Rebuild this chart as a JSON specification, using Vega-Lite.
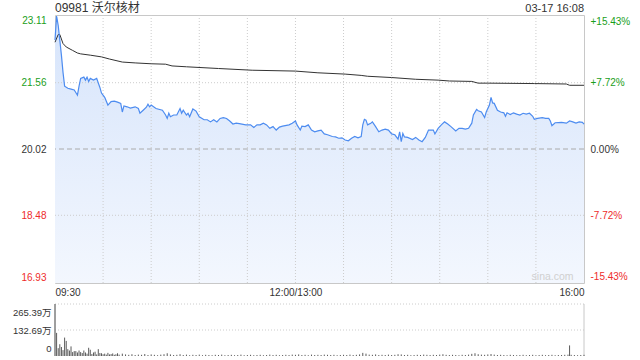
{
  "$schema": "https://vega.github.io/schema/vega-lite/v6.json",
  "background": "white",
  "padding": {"left": 12, "top": 1, "right": 0, "bottom": 0},
  "spacing": 21,
  "bounds": "flush",
  "config": {
    "font": "Liberation Sans",
    "view": {"stroke": "#c8c8c8"},
    "axis": {"labelFont": "Liberation Sans, Noto Sans CJK SC", "labelFontSize": 10, "labelColor": "#333333", "domain": false, "ticks": false, "tickSize": 0, "grid": false, "title": null, "labelOverlap": false}
  },
  "datasets": {
    "price": [
      {"m":0,"p":22.55},{"m":1,"p":23.11},{"m":2,"p":22.89},{"m":3,"p":22.55},{"m":4,"p":22.20},{"m":5,"p":21.80},{"m":6,"p":21.48},{"m":8,"p":21.43},{"m":10,"p":21.41},{"m":12,"p":21.39},{"m":14,"p":21.27},{"m":15,"p":21.48},{"m":16,"p":21.66},{"m":18,"p":21.69},{"m":19,"p":21.62},{"m":20,"p":21.69},{"m":21,"p":21.59},{"m":22,"p":21.66},{"m":24,"p":21.62},{"m":26,"p":21.66},{"m":28,"p":21.45},{"m":29,"p":21.32},{"m":31,"p":21.22},{"m":33,"p":21.04},{"m":35,"p":21.12},{"m":37,"p":21.13},{"m":39,"p":21.11},{"m":41,"p":21.08},{"m":42,"p":20.88},{"m":43,"p":21.02},{"m":45,"p":21.00},{"m":47,"p":20.97},{"m":50,"p":21.00},{"m":52,"p":20.96},{"m":53,"p":20.85},{"m":55,"p":20.92},{"m":57,"p":20.99},{"m":58,"p":21.06},{"m":59,"p":21.00},{"m":60,"p":21.04},{"m":63,"p":20.96},{"m":67,"p":20.92},{"m":69,"p":20.81},{"m":70,"p":20.73},{"m":71,"p":20.85},{"m":72,"p":20.77},{"m":74,"p":20.81},{"m":76,"p":20.81},{"m":78,"p":20.96},{"m":79,"p":20.85},{"m":80,"p":20.92},{"m":82,"p":20.81},{"m":83,"p":20.85},{"m":84,"p":20.77},{"m":86,"p":20.95},{"m":88,"p":20.90},{"m":90,"p":20.77},{"m":93,"p":20.70},{"m":95,"p":20.70},{"m":97,"p":20.65},{"m":99,"p":20.70},{"m":101,"p":20.65},{"m":103,"p":20.73},{"m":105,"p":20.75},{"m":107,"p":20.73},{"m":109,"p":20.67},{"m":111,"p":20.60},{"m":113,"p":20.62},{"m":115,"p":20.61},{"m":119,"p":20.58},{"m":122,"p":20.58},{"m":124,"p":20.52},{"m":126,"p":20.58},{"m":128,"p":20.58},{"m":130,"p":20.62},{"m":132,"p":20.58},{"m":134,"p":20.50},{"m":136,"p":20.54},{"m":138,"p":20.46},{"m":140,"p":20.53},{"m":142,"p":20.55},{"m":146,"p":20.58},{"m":148,"p":20.62},{"m":150,"p":20.67},{"m":151,"p":20.58},{"m":153,"p":20.46},{"m":154,"p":20.55},{"m":156,"p":20.54},{"m":158,"p":20.58},{"m":160,"p":20.46},{"m":162,"p":20.42},{"m":164,"p":20.44},{"m":166,"p":20.46},{"m":168,"p":20.37},{"m":170,"p":20.35},{"m":173,"p":20.31},{"m":175,"p":20.30},{"m":177,"p":20.27},{"m":179,"p":20.28},{"m":181,"p":20.23},{"m":183,"p":20.21},{"m":185,"p":20.27},{"m":187,"p":20.31},{"m":189,"p":20.28},{"m":191,"p":20.31},{"m":192,"p":20.58},{"m":193,"p":20.71},{"m":194,"p":20.69},{"m":195,"p":20.58},{"m":197,"p":20.62},{"m":198,"p":20.65},{"m":200,"p":20.54},{"m":202,"p":20.42},{"m":204,"p":20.46},{"m":206,"p":20.48},{"m":208,"p":20.46},{"m":210,"p":20.37},{"m":212,"p":20.35},{"m":214,"p":20.25},{"m":215,"p":20.42},{"m":216,"p":20.19},{"m":217,"p":20.38},{"m":218,"p":20.30},{"m":220,"p":20.29},{"m":223,"p":20.24},{"m":225,"p":20.29},{"m":227,"p":20.23},{"m":229,"p":20.19},{"m":231,"p":20.29},{"m":233,"p":20.46},{"m":236,"p":20.46},{"m":237,"p":20.37},{"m":239,"p":20.50},{"m":241,"p":20.58},{"m":243,"p":20.65},{"m":245,"p":20.60},{"m":247,"p":20.54},{"m":250,"p":20.44},{"m":252,"p":20.50},{"m":254,"p":20.50},{"m":256,"p":20.48},{"m":258,"p":20.50},{"m":260,"p":20.62},{"m":261,"p":20.81},{"m":263,"p":20.94},{"m":264,"p":20.91},{"m":266,"p":20.88},{"m":268,"p":20.75},{"m":269,"p":20.88},{"m":271,"p":21.04},{"m":272,"p":21.22},{"m":273,"p":21.09},{"m":274,"p":21.08},{"m":276,"p":20.92},{"m":278,"p":20.88},{"m":280,"p":20.86},{"m":281,"p":20.78},{"m":282,"p":20.86},{"m":284,"p":20.82},{"m":286,"p":20.86},{"m":288,"p":20.83},{"m":290,"p":20.81},{"m":292,"p":20.85},{"m":294,"p":20.83},{"m":296,"p":20.85},{"m":298,"p":20.78},{"m":299,"p":20.71},{"m":301,"p":20.73},{"m":304,"p":20.75},{"m":306,"p":20.73},{"m":308,"p":20.73},{"m":309,"p":20.67},{"m":310,"p":20.56},{"m":312,"p":20.63},{"m":316,"p":20.64},{"m":319,"p":20.62},{"m":321,"p":20.67},{"m":323,"p":20.65},{"m":325,"p":20.62},{"m":327,"p":20.65},{"m":329,"p":20.64},{"m":330,"p":20.60}
    ],
    "avg": [
      {"m":0,"a":22.50},{"m":2,"a":22.68},{"m":3,"a":22.68},{"m":5,"a":22.47},{"m":7,"a":22.39},{"m":11,"a":22.31},{"m":14,"a":22.25},{"m":16,"a":22.23},{"m":22,"a":22.20},{"m":29,"a":22.16},{"m":34,"a":22.11},{"m":42,"a":22.04},{"m":50,"a":22.02},{"m":60,"a":22.00},{"m":69,"a":21.99},{"m":73,"a":21.95},{"m":82,"a":21.93},{"m":102,"a":21.89},{"m":123,"a":21.85},{"m":150,"a":21.83},{"m":164,"a":21.79},{"m":181,"a":21.76},{"m":191,"a":21.73},{"m":195,"a":21.71},{"m":210,"a":21.68},{"m":225,"a":21.64},{"m":239,"a":21.62},{"m":246,"a":21.60},{"m":260,"a":21.59},{"m":264,"a":21.55},{"m":270,"a":21.55},{"m":299,"a":21.54},{"m":319,"a":21.53},{"m":321,"a":21.50},{"m":330,"a":21.50}
    ],
    "vol": [
      {"m":0,"v":265.39},{"m":1,"v":118},{"m":2,"v":40},{"m":3,"v":60},{"m":4,"v":46},{"m":5,"v":30},{"m":6,"v":94},{"m":7,"v":77},{"m":8,"v":35},{"m":9,"v":28},{"m":10,"v":49},{"m":11,"v":20},{"m":12,"v":25},{"m":13,"v":25},{"m":14,"v":18},{"m":15,"v":28},{"m":16,"v":20},{"m":17,"v":15},{"m":18,"v":28},{"m":19,"v":18},{"m":20,"v":12},{"m":21,"v":42},{"m":22,"v":32},{"m":23,"v":10},{"m":24,"v":18},{"m":25,"v":22},{"m":26,"v":8},{"m":27,"v":35},{"m":28,"v":15},{"m":29,"v":14},{"m":30,"v":9},{"m":31,"v":12},{"m":32,"v":7},{"m":33,"v":16},{"m":34,"v":8},{"m":35,"v":10},{"m":36,"v":13},{"m":37,"v":6},{"m":38,"v":9},{"m":39,"v":14},{"m":40,"v":7},
      {"m":42,"v":12},{"m":44,"v":8},{"m":46,"v":6},{"m":48,"v":9},{"m":50,"v":5},{"m":52,"v":7},{"m":54,"v":6},{"m":56,"v":10},{"m":58,"v":5},{"m":60,"v":8},{"m":62,"v":6},{"m":64,"v":4},{"m":66,"v":7},{"m":68,"v":9},{"m":70,"v":14},{"m":72,"v":8},{"m":74,"v":5},{"m":76,"v":6},{"m":78,"v":9},{"m":80,"v":5},{"m":82,"v":7},{"m":84,"v":4},{"m":86,"v":6},{"m":88,"v":5},{"m":90,"v":7},{"m":92,"v":4},{"m":94,"v":6},{"m":96,"v":5},{"m":98,"v":4},{"m":100,"v":6},{"m":102,"v":5},{"m":104,"v":7},{"m":106,"v":4},{"m":108,"v":5},{"m":110,"v":6},{"m":112,"v":4},{"m":114,"v":5},{"m":116,"v":7},{"m":118,"v":4},{"m":120,"v":5},{"m":122,"v":6},{"m":124,"v":4},{"m":126,"v":5},{"m":128,"v":6},{"m":130,"v":4},{"m":132,"v":5},{"m":134,"v":7},{"m":136,"v":5},{"m":138,"v":6},{"m":140,"v":4},{"m":142,"v":5},{"m":144,"v":6},{"m":146,"v":5},{"m":148,"v":7},{"m":150,"v":6},{"m":152,"v":8},{"m":154,"v":5},{"m":156,"v":6},{"m":158,"v":4},{"m":160,"v":7},{"m":162,"v":5},{"m":164,"v":6},{"m":166,"v":5},{"m":168,"v":7},{"m":170,"v":6},{"m":172,"v":5},{"m":174,"v":6},{"m":176,"v":4},{"m":178,"v":5},{"m":180,"v":6},{"m":182,"v":5},{"m":184,"v":7},{"m":186,"v":5},{"m":188,"v":6},{"m":190,"v":8},{"m":192,"v":16},{"m":194,"v":12},{"m":196,"v":7},{"m":198,"v":6},{"m":200,"v":8},{"m":202,"v":5},{"m":204,"v":6},{"m":206,"v":5},{"m":208,"v":7},{"m":210,"v":5},{"m":212,"v":6},{"m":214,"v":9},{"m":216,"v":8},{"m":218,"v":5},{"m":220,"v":6},{"m":222,"v":4},{"m":224,"v":5},{"m":226,"v":6},{"m":228,"v":5},{"m":230,"v":7},{"m":232,"v":6},{"m":234,"v":5},{"m":236,"v":6},{"m":238,"v":5},{"m":240,"v":7},{"m":242,"v":9},{"m":244,"v":6},{"m":246,"v":5},{"m":248,"v":6},{"m":250,"v":5},{"m":252,"v":4},{"m":254,"v":6},{"m":256,"v":5},{"m":258,"v":7},{"m":260,"v":11},{"m":262,"v":14},{"m":264,"v":9},{"m":266,"v":7},{"m":268,"v":6},{"m":270,"v":8},{"m":272,"v":10},{"m":274,"v":7},{"m":276,"v":5},{"m":278,"v":6},{"m":280,"v":5},{"m":282,"v":4},{"m":284,"v":6},{"m":286,"v":5},{"m":288,"v":4},{"m":290,"v":5},{"m":292,"v":6},{"m":294,"v":4},{"m":296,"v":5},{"m":298,"v":6},{"m":300,"v":4},{"m":302,"v":5},{"m":304,"v":6},{"m":306,"v":4},{"m":308,"v":5},{"m":310,"v":6},{"m":312,"v":4},{"m":314,"v":5},{"m":316,"v":5},{"m":318,"v":6},{"m":320,"v":7},{"m":321,"v":54},{"m":322,"v":6},{"m":324,"v":5},{"m":326,"v":4},{"m":328,"v":5},{"m":330,"v":6}
    ],
    "vgrid": [{"m":30},{"m":60},{"m":90},{"m":120},{"m":150},{"m":180},{"m":210},{"m":240},{"m":270},{"m":300}],
    "hgrid": [{"p":21.56},{"p":18.48}],
    "vborder": [{"m":0},{"m":330}],
    "volgrid": [{"v":132.69},{"v":265.39}]
  },
  "vconcat": [
    {
      "width": 529,
      "height": 268,
      "layer": [
        {
          "layer": [
            {
              "data": {"name": "price"},
              "mark": {"type": "area", "color": {"gradient": "linear", "x1": 0, "y1": 0, "x2": 0, "y2": 1, "stops": [{"offset": 0, "color": "#d6e4fb"}, {"offset": 1, "color": "#f3f7fe"}]}},
              "encoding": {
                "x": {"field": "m", "type": "quantitative", "scale": {"domain": [0, 330], "nice": false, "zero": false},
                  "axis": {"values": [0, 150, 330], "tickCount": 12, "labelExpr": "datum.value == 0 ? '09:30' : (datum.value == 150 ? '12:00/13:00' : '16:00')", "labelFlush": true, "labelPadding": 4}},
                "y": {"field": "p", "type": "quantitative", "scale": {"domain": [16.907, 23.133], "nice": false, "zero": false},
                  "axis": {"orient": "left", "offset": 0, "tickCount": 10, "labelAlign": "right", "values": [16.93, 18.48, 20.02, 21.56, 23.11], "format": ".2f", "labelFlush": 3, "labelPadding": 9,
                    "labelColor": {"condition": [{"test": "datum.value > 20.1", "value": "#1a9e1a"}, {"test": "datum.value < 19.9", "value": "#ee2c2c"}], "value": "#333333"}}},
                "y2": {"datum": 16.907}
              }
            },
            {
              "data": {"name": "hgrid"},
              "mark": {"type": "rule", "color": "#cccccc", "strokeDash": [1, 2], "strokeWidth": 1},
              "encoding": {"y": {"field": "p", "type": "quantitative"}}
            },
            {
              "data": {"name": "vgrid"},
              "mark": {"type": "rule", "color": "#cccccc", "strokeDash": [1, 2], "strokeWidth": 1},
              "encoding": {"x": {"field": "m", "type": "quantitative"}}
            },
            {
              "data": {"name": "avg"},
              "mark": {"type": "line", "color": "#333333", "strokeWidth": 1},
              "encoding": {"x": {"field": "m", "type": "quantitative"}, "y": {"field": "a", "type": "quantitative"}}
            },
            {
              "data": {"name": "price"},
              "mark": {"type": "line", "color": "#4d8cf0", "strokeWidth": 1.2},
              "encoding": {"x": {"field": "m", "type": "quantitative"}, "y": {"field": "p", "type": "quantitative"}}
            },
            {
              "data": {"values": [{"t": "09981 沃尔核材"}]},
              "mark": {"type": "text", "align": "left", "baseline": "alphabetic", "dy": -3.5, "fontSize": 12, "font": "Liberation Sans, Noto Sans CJK SC", "color": "#333333"},
              "encoding": {"x": {"datum": 0, "type": "quantitative"}, "y": {"datum": 23.133, "type": "quantitative"}, "text": {"field": "t"}}
            },
            {
              "data": {"values": [{"t": "03-17 16:08"}]},
              "mark": {"type": "text", "align": "right", "baseline": "alphabetic", "dy": -3.5, "fontSize": 11, "font": "Liberation Sans", "color": "#333333"},
              "encoding": {"x": {"datum": 330, "type": "quantitative"}, "y": {"datum": 23.133, "type": "quantitative"}, "text": {"field": "t"}}
            },
            {
              "data": {"values": [{"t": "sina.com"}]},
              "mark": {"type": "text", "align": "right", "baseline": "bottom", "dy": -1, "fontSize": 10.5, "font": "Liberation Sans", "color": "#d0d0d0"},
              "encoding": {"x": {"datum": 323.5, "type": "quantitative"}, "y": {"datum": 16.907, "type": "quantitative"}, "text": {"field": "t"}}
            }
          ]
        },
        {
          "data": {"values": [{"pct": 0}]},
          "mark": {"type": "rule", "color": "#aaaaaa", "strokeDash": [5, 3], "strokeWidth": 1},
          "encoding": {
            "y": {"field": "pct", "type": "quantitative", "scale": {"domain": [-0.15549, 0.15549], "nice": false, "zero": false},
              "axis": {"orient": "right", "offset": 0, "tickCount": 10, "values": [-0.1543, -0.0772, 0, 0.0772, 0.1543], "labelFlush": 3, "labelPadding": 6,
                "labelExpr": "(datum.value < -0.001 ? '-' : (datum.value > 0.001 ? '+' : '')) + format(abs(datum.value), '.2%')",
                "labelColor": {"condition": [{"test": "datum.value > 0.001", "value": "#1a9e1a"}, {"test": "datum.value < -0.001", "value": "#ee2c2c"}], "value": "#333333"}}}
          }
        }
      ],
      "resolve": {"scale": {"y": "independent"}}
    },
    {
      "width": 529,
      "height": 52,
      "view": {"stroke": null},
      "layer": [
        {
          "data": {"name": "volgrid"},
          "mark": {"type": "rule", "color": "#cccccc", "strokeDash": [1, 2], "strokeWidth": 1},
          "encoding": {
            "y": {"field": "v", "type": "quantitative", "scale": {"domain": [0, 265.39], "nice": false},
              "axis": {"orient": "left", "offset": 0, "tickCount": 5, "values": [0, 132.69, 265.39], "labelFlush": false, "labelOverlap": false, "labelBound": false, "labelBaseline": "middle", "labelPadding": 4, "labelFontSize": 9.5,
                "labelOffset": {"condition": [{"test": "datum.value > 200", "value": 8}, {"test": "datum.value < 1", "value": -7.5}], "value": 0},
                "labelExpr": "datum.value == 0 ? '0' : format(datum.value, '.2f') + '万'"}}
          }
        },
        {
          "data": {"name": "vborder"},
          "mark": {"type": "rule", "color": "#c8c8c8", "strokeWidth": 1},
          "encoding": {"x": {"field": "m", "type": "quantitative", "scale": {"domain": [0, 330], "nice": false, "zero": false}, "axis": null}}
        },
        {
          "data": {"name": "vol"},
          "mark": {"type": "rule", "color": "#5a5a5a", "strokeWidth": 1},
          "encoding": {
            "x": {"field": "m", "type": "quantitative"},
            "y": {"field": "v", "type": "quantitative"},
            "y2": {"datum": 0}
          }
        }
      ]
    }
  ]
}
